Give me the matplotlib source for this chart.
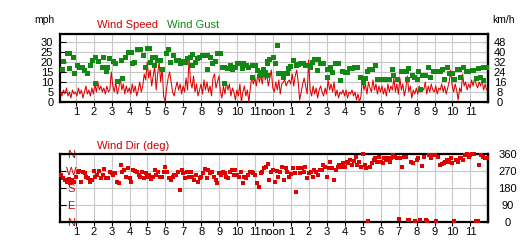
import numpy as np
import matplotlib
matplotlib.use('Agg')
import matplotlib.pyplot as plt

plt.rcParams['font.family'] = ['Liberation Sans', 'DejaVu Sans']

# ---------------- data ----------------
hour_ticks = list(range(1, 24))
hour_labels = ['1', '2', '3', '4', '5', '6', '7', '8', '9', '10', '11', 'noon',
               '1', '2', '3', '4', '5', '6', '7', '8', '9', '10', '11']

mph_ticks = [0, 5, 10, 15, 20, 25, 30]
kmh_ticks = [0, 8, 16, 24, 32, 40, 48]
dir_ticks = [0, 90, 180, 270, 360]
dir_compass = ['N', 'E', 'S', 'W', 'N']

# wind speed (mph), 5-minute samples starting 00:09
speed_start = 0.15
speed_mph = [
    5, 3, 6, 4, 7, 3, 5, 2, 6, 4,
    5, 3, 7, 4, 6, 2, 5, 8, 4, 6, 3, 7,
    4, 9, 5, 10, 6, 8, 5, 7, 4, 8, 5, 6,
    15, 8, 5, 10, 4, 7, 12, 6, 9, 4, 8, 5,
    7, 4, 9, 5, 8, 3, 6, 10, 5, 8, 14, 11,
    20, 12, 16, 8, 13, 18, 6, 14, 20, 10, 17, 3,
    0, 7, 12, 15, 10, 5, 3, 7, 10, 6, 9, 4,
    8, 5, 12, 6, 22, 10, 7, 13, 5, 9, 3, 6,
    9, 4, 11, 6, 10, 5, 8, 3, 12, 14, 7, 10,
    13, 5, 2, 8, 4, 10, 6, 9, 3, 7, 5, 1,
    6, 3, 9, 0, 5, 8, 3, 6, 0, 7, 13, 9,
    12, 8, 14, 10, 13, 9, 15, 11, 14, 8, 12, 16,
    7, 5, 10, 6, 11, 4, 9, 10, 11, 8, 10, 11,
    9, 14, 8, 13, 16, 10, 1, 5, 9, 12, 8, 4,
    21, 6, 3, 8, 4, 7, 2, 6, 8, 5, 3, 7,
    4, 11, 6, 9, 5, 10, 3, 6, 2, 5, 4, 6,
    3, 6, 2, 5, 4, 6, 3, 5, 1, 4, 0, 3,
    12, 6, 9, 4, 10, 7, 5, 11, 6, 9, 4, 8,
    5, 8, 4, 7, 3, 9, 5, 8, 6, 12, 5, 9,
    4, 12, 6, 9, 3, 7, 13, 5, 8, 2, 6, 4,
    7, 4, 8, 5, 7, 6, 10, 4, 8, 5, 9, 6,
    5, 8, 4, 7, 6, 9, 5, 8, 4, 7, 10, 16,
    8, 5, 9, 6, 1, 7, 5, 14, 8, 10, 6, 9,
    7, 11, 8, 12, 9, 7, 10, 8, 11, 6, 9, 6,
]

# wind gust (hour of day, mph)
gust_hour = [
    0.22, 0.27, 0.50, 0.62, 0.62, 0.83, 0.90, 1.05, 1.20, 1.33, 1.46, 1.64,
    1.80, 1.89, 2.07, 2.07, 2.26, 2.45, 2.52, 2.69, 2.74, 2.85, 3.09, 3.19,
    3.32, 3.51, 3.60, 3.75, 3.93, 4.06, 4.12, 4.25, 4.43, 4.58, 4.73, 4.86,
    4.96, 5.08, 5.14, 5.27, 5.36, 5.42, 5.51, 5.70, 5.83, 6.01, 6.16, 6.25,
    6.44, 6.57, 6.72, 6.81, 6.94, 7.09, 7.22, 7.37, 7.46, 7.50, 7.65, 7.74,
    7.87, 8.02, 8.15, 8.30, 8.33, 8.48, 8.61, 8.76, 8.89, 9.04, 9.14, 9.26,
    9.26, 9.45, 9.60, 9.73, 9.88, 10.01, 10.16, 10.25, 10.34, 10.49, 10.62, 10.81,
    10.84, 10.99, 11.12, 11.27, 11.37, 11.46, 11.46, 11.55, 11.64, 11.68, 11.68, 11.79,
    11.98, 12.11, 12.20, 12.29, 12.39, 12.54, 12.57, 12.66, 12.79, 12.85, 12.94, 13.13,
    13.28, 13.41, 13.50, 13.65, 13.78, 13.91, 14.06, 14.15, 14.28, 14.39, 14.43, 14.52,
    14.62, 14.77, 14.99, 14.99, 15.17, 15.27, 15.45, 15.64, 15.73, 15.83, 16.01, 16.14,
    16.25, 16.38, 16.51, 16.66, 16.85, 17.03, 17.12, 17.22, 17.36, 17.50, 17.68, 17.78,
    17.92, 18.06, 18.18, 18.33, 18.48, 18.61, 18.70, 18.89, 19.11, 19.26, 19.41, 19.45,
    19.54, 19.73, 19.86, 20.01, 20.10, 20.19, 20.28, 20.47, 20.65, 20.75, 20.93, 21.12,
    21.30, 21.40, 21.53, 21.68, 21.82, 21.96, 22.10, 22.24, 22.38, 22.42, 22.60, 22.75,
    22.88, 23.07, 23.16, 23.31, 23.44, 23.53, 23.68, 23.72, 23.87,
]
gust_mph = [
    16.3, 20.5, 24.7, 24.7, 16.8, 22.7, 14.7, 18.5, 17.3, 17.3, 16.0, 14.7,
    18.5, 21.0, 22.3, 9.7, 20.5, 17.7, 22.3, 15.7, 17.7, 21.8, 20.7, 19.3,
    10.5, 21.0, 12.2, 22.3, 25.2, 25.2, 19.3, 20.2, 26.3, 26.3, 23.5, 17.7,
    27.2, 27.2, 20.2, 22.3, 18.5, 22.3, 21.0, 21.0, 16.3, 24.7, 26.3, 20.2,
    23.5, 21.0, 21.0, 19.3, 20.7, 20.2, 22.2, 22.7, 23.8, 18.5, 20.2, 21.8,
    22.3, 23.5, 23.5, 23.5, 16.3, 22.3, 19.3, 20.7, 24.7, 24.7, 17.7, 9.3,
    17.7, 16.8, 18.5, 16.3, 17.7, 19.3, 19.3, 16.8, 19.3, 18.5, 17.7, 18.5,
    12.7, 18.5, 16.0, 13.5, 15.2, 14.0, 16.3, 15.2, 19.7, 20.7, 13.5, 21.3,
    22.3, 19.7, 28.5, 14.7, 14.7, 14.7, 12.3, 14.7, 14.7, 16.8, 18.0, 21.0,
    18.5, 19.0, 19.3, 19.3, 18.5, 18.5, 17.7, 20.2, 21.3, 21.3, 16.0, 21.3,
    19.7, 19.7, 12.7, 16.3, 17.7, 15.2, 19.7, 19.7, 11.0, 15.7, 15.2, 15.2,
    16.8, 16.8, 17.7, 17.7, 12.7, 10.2, 11.8, 15.7, 16.5, 16.5, 18.5, 11.5,
    11.5, 11.5, 11.5, 11.5, 11.5, 16.5, 13.5, 11.5, 15.7, 15.7, 15.7, 11.5,
    16.8, 13.5, 12.3, 11.5, 15.5, 6.3, 13.5, 13.5, 17.7, 12.7, 15.7, 15.5,
    15.5, 16.5, 11.5, 17.3, 14.3, 14.3, 11.3, 16.5, 16.5, 12.3, 17.7, 15.7,
    15.7, 16.0, 16.0, 11.8, 16.8, 12.3, 17.7, 11.0, 17.7,
]

# wind direction (deg), 6-minute samples starting 00:12
dir_start = 0.2
dir_deg = [
    249, 235, 222, 214, 228, 205, 222, 214,
    240, 266, 270, 214, 266, 258, 240, 231, 214, 222,
    270, 240, 249, 270, 231, 249, 281, 231, 235, 266,
    258, 249, 258, 214, 205, 302, 266, 275, 240, 284,
    235, 214, 275, 270, 266, 249, 240, 266, 231, 258,
    240, 249, 228, 240, 275, 249, 266, 240, 240, 263,
    293, 266, 231, 222, 240, 249, 249, 266, 169, 275,
    258, 231, 266, 240, 266, 240, 222, 249, 214, 231,
    240, 258, 281, 231, 275, 258, 266, 240, 222, 205,
    258, 249, 266, 258, 240, 235, 266, 275, 249, 275,
    249, 240, 266, 205, 240, 231, 249, 266, 266, 258,
    249, 205, 187, 258, 266, 284, 293, 305, 222, 266,
    275, 214, 270, 240, 266, 293, 222, 284, 266, 240,
    252, 284, 258, 161, 284, 258, 284, 266, 293, 231,
    258, 266, 240, 275, 266, 249, 275, 275, 302, 293,
    240, 284, 319, 284, 222, 275, 293, 302, 293, 311,
    293, 319, 311, 328, 302, 323, 346, 302, 319, 293,
    360, 302, 284, 5, 293, 311, 328, 337, 319, 346,
    319, 310, 337, 328, 341, 319, 337, 354, 345, 337,
    15, 337, 293, 345, 345, 8, 12, 319, 310, 5,
    328, 341, 8, 297, 345, 12, 5, 354, 337, 354,
    354, 5, 345, 302, 306, 310, 319, 328, 319, 337,
    310, 5, 328, 319, 337, 337, 328, 354, 360, 345,
    354, 358, 358, 5, 5, 302, 354, 345, 337, 337,
]

# ---------------- figure ----------------
W, H = 532, 248
fig = plt.figure(figsize=(W / 100, H / 100), dpi=100)
fig.patch.set_facecolor('white')

RED = '#e00000'
TXT_RED = '#cc0000'
GREEN = '#118811'
GRID = '#c8c8c8'
XMIN, XMAX = 0.095, 23.98
FS = 8


def px_axes(l, t, r, b):
    return fig.add_axes([l / W, 1 - b / H, (r - l) / W, (b - t) / H])


def style(ax):
    for s in ax.spines.values():
        s.set_linewidth(1.6)
        s.set_color('black')
    ax.set_xlim(XMIN, XMAX)
    ax.set_xticks(hour_ticks)
    ax.set_xticklabels(hour_labels, fontsize=FS)
    ax.tick_params(axis='x', direction='out', length=3, width=0.8, pad=0.5)
    ax.grid(True, color=GRID, linewidth=0.8)
    ax.set_axisbelow(True)


# top panel: speed / gust
ax1 = px_axes(59.5, 34, 488, 102)
style(ax1)
ax1.set_ylim(0, 34)
ax1.set_yticks(mph_ticks)
ax1.set_yticklabels([str(v) for v in mph_ticks], fontsize=FS)
ax1.tick_params(axis='y', direction='in', length=4, width=0.8, pad=4.5)

t_speed = speed_start + np.arange(len(speed_mph)) / 12.0
ax1.plot(t_speed, speed_mph, color=RED, linewidth=0.75, zorder=3)
ax1.plot(gust_hour, gust_mph, linestyle='none', marker='s', markersize=3.6,
         markeredgewidth=0, color=GREEN, zorder=4)

sec1 = ax1.secondary_yaxis('right', functions=(lambda m: m * 1.609344,
                                               lambda k: k / 1.609344))
sec1.set_yticks(kmh_ticks)
sec1.set_yticklabels([str(v) for v in kmh_ticks], fontsize=FS)
sec1.tick_params(axis='y', direction='in', length=4, width=0.8, pad=8.6)
sec1.spines['right'].set_linewidth(1.6)
for lab in sec1.get_yticklabels():
    lab.set_horizontalalignment('center')

# bottom panel: direction
ax2 = px_axes(59.5, 154, 488, 222)
style(ax2)
ax2.set_ylim(0, 360)
ax2.set_yticks(dir_ticks)
ax2.set_yticklabels(dir_compass, fontsize=FS, color=TXT_RED)
ax2.tick_params(axis='y', direction='in', length=4, width=0.8, pad=-8.2)
for lab in ax2.get_yticklabels():
    lab.set_horizontalalignment('center')

t_dir = dir_start + np.arange(len(dir_deg)) * 0.1
ax2.plot(t_dir, dir_deg, linestyle='none', marker='s', markersize=2.8,
         markeredgewidth=0, color=RED, zorder=4, clip_on=False)

sec2 = ax2.secondary_yaxis('right')
sec2.set_yticks(dir_ticks)
sec2.set_yticklabels([str(v) for v in dir_ticks], fontsize=FS)
sec2.tick_params(axis='y', direction='in', length=4, width=0.8, pad=14)
sec2.spines['right'].set_linewidth(1.6)
for lab in sec2.get_yticklabels():
    lab.set_horizontalalignment('center')

# titles
def ftext(x, y, s, color='black', size=FS, ha='left'):
    fig.text(x / W, 1 - y / H, s, color=color, fontsize=size, ha=ha, va='center')

ftext(34, 20, 'mph', size=7.5)
ftext(492, 20, 'km/h', size=7.5)
ftext(97, 25, 'Wind Speed', color=TXT_RED)
ftext(167, 25, 'Wind Gust', color=GREEN)
ftext(97, 146, 'Wind Dir (deg)', color=TXT_RED)

fig.savefig('out.png', dpi=100, facecolor='white')
